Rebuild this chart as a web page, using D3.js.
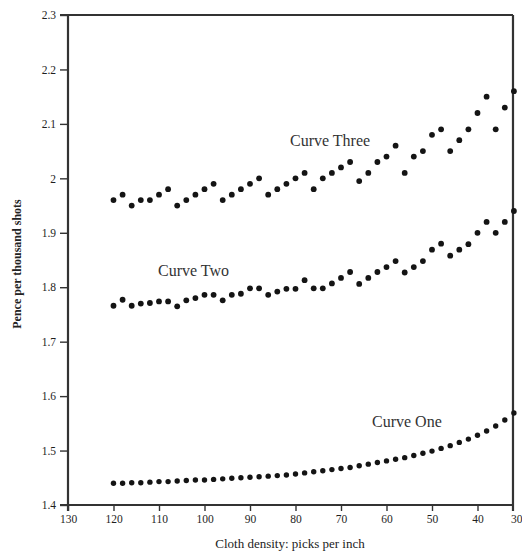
<!DOCTYPE html>
<html>
<head>
<meta charset="utf-8">
<script src="https://cdn.jsdelivr.net/npm/d3@7"></script>
<style>
  body { margin: 0; background: #fff; }
  svg { display: block; }
</style>
</head>
<body>
<div id="chart"></div>
<script>
// cloth density (picks per inch), read right to left on the axis
const picks = [120, 118, 116, 114, 112, 110, 108, 106, 104, 102, 100, 98, 96, 94, 92,
    90, 88, 86, 84, 82, 80, 78, 76, 74, 72, 70, 68, 66, 64, 62,
    60, 58, 56, 54, 52, 50, 48, 46, 44, 42, 40, 38, 36, 34, 32];

// pence per thousand shots, one value per pick
const curveOne = [1.440, 1.440, 1.441, 1.441, 1.442, 1.443, 1.443, 1.444, 1.445, 1.446,
    1.446, 1.447, 1.448, 1.449, 1.450, 1.451, 1.452, 1.453, 1.454, 1.455,
    1.457, 1.459, 1.461, 1.463, 1.465, 1.467, 1.469, 1.472, 1.475, 1.478,
    1.481, 1.484, 1.487, 1.491, 1.495, 1.499, 1.504, 1.509, 1.515, 1.521,
    1.528, 1.536, 1.545, 1.556, 1.569];

const curveTwo = [1.766, 1.777, 1.766, 1.77, 1.771, 1.774, 1.774, 1.765, 1.776, 1.78,
    1.786, 1.786, 1.776, 1.786, 1.788, 1.798, 1.798, 1.786, 1.792, 1.797,
    1.797, 1.813, 1.798, 1.798, 1.807, 1.817, 1.828, 1.806, 1.817, 1.828,
    1.837, 1.848, 1.827, 1.837, 1.848, 1.869, 1.88, 1.858, 1.869, 1.879,
    1.90, 1.92, 1.90, 1.92, 1.94];

const curveThree = [1.96, 1.97, 1.95, 1.96, 1.96, 1.97, 1.98, 1.95, 1.96, 1.97,
    1.98, 1.99, 1.96, 1.97, 1.98, 1.99, 2.00, 1.97, 1.98, 1.99,
    2.00, 2.01, 1.98, 2.00, 2.01, 2.02, 2.03, 1.995, 2.01, 2.03,
    2.04, 2.06, 2.01, 2.04, 2.05, 2.08, 2.09, 2.05, 2.07, 2.09,
    2.12, 2.15, 2.09, 2.13, 2.16];

const curveNames = ["Curve One", "Curve Two", "Curve Three"];

const xTicks = [130, 120, 110, 100, 90, 80, 70, 60, 50, 40, 30];
const yTicks = [1.4, 1.5, 1.6, 1.7, 1.8, 1.9, 2.0, 2.1, 2.2, 2.3];

const width = 522, height = 555;
const font = "'Liberation Serif', 'Times New Roman', serif";

const svg = d3.select("div#chart").append("svg")
    .attr("width", width)
    .attr("height", height)
    .style("background-color", "white");

// scales
const x = d3.scaleLinear().domain([130, 30]).range([68, 523]);
const y = d3.scaleLinear().domain([1.4, 2.3]).range([505, 15]);

// the frame stops a little short of the 30 mark, right on the last column of dots
const frameRight = x(32.2);

// y axis
const yAxis = svg.append("g")
    .attr("transform", "translate(68,0)")
    .call(d3.axisLeft(y)
        .tickValues(yTicks)
        .tickFormat(d3.format("~g"))
        .tickSize(8)
        .tickPadding(4)
        .tickSizeOuter(0));
yAxis.select(".domain").remove();
yAxis.selectAll("line").attr("stroke", "#333").attr("stroke-width", 1.4);
yAxis.selectAll("text")
    .attr("font-family", font)
    .attr("font-size", 11.5)
    .attr("fill", "#1e1e1e");

// x axis
const xAxis = svg.append("g")
    .attr("transform", "translate(0,505)")
    .call(d3.axisBottom(x)
        .tickValues(xTicks)
        .tickSize(6)
        .tickPadding(4)
        .tickSizeOuter(0));
xAxis.select(".domain").remove();
xAxis.selectAll("line").attr("stroke", "#333").attr("stroke-width", 1.4);
xAxis.selectAll("text")
    .attr("font-family", font)
    .attr("font-size", 11.5)
    .attr("fill", "#1e1e1e");
// last label sits against the frame
xAxis.selectAll(".tick").filter(d => d === 30)
    .call(t => t.select("line").remove())
    .select("text")
    .attr("text-anchor", "end")
    .attr("dx", -1);

// frame
const frame = svg.append("g")
    .attr("stroke", "#333")
    .attr("stroke-width", 2.2)
    .attr("fill", "none");
frame.append("line").attr("x1", 68).attr("x2", 68).attr("y1", y(2.3)).attr("y2", y(1.4) + 6);
frame.append("line").attr("x1", 60).attr("x2", frameRight).attr("y1", y(2.3)).attr("y2", y(2.3));
frame.append("line").attr("x1", 60).attr("x2", frameRight).attr("y1", y(1.4)).attr("y2", y(1.4));
frame.append("line").attr("x1", frameRight).attr("x2", frameRight).attr("y1", y(2.3)).attr("y2", y(1.4) + 6);

// dots for each curve
const curves = [curveOne, curveTwo, curveThree];
const dotRadius = [2.7, 2.9, 2.9];

curves.forEach((vals, k) => {
    svg.append("g")
        .selectAll("circle")
        .data(vals)
        .join("circle")
        .attr("cx", (d, i) => x(picks[i]))
        .attr("cy", d => y(d))
        .attr("r", dotRadius[k])
        .attr("fill", "#141414");
});

// curve labels
const labelPos = [
    { x: 372, y: 427 },
    { x: 158, y: 276 },
    { x: 290, y: 146 }
];
curveNames.forEach((name, k) => {
    svg.append("text")
        .attr("x", labelPos[k].x)
        .attr("y", labelPos[k].y)
        .attr("font-family", font)
        .attr("font-size", 16)
        .attr("fill", "#333")
        .text(name);
});

// axis titles
svg.append("text")
    .attr("x", 290)
    .attr("y", 548)
    .attr("text-anchor", "middle")
    .attr("font-family", font)
    .attr("font-size", 13)
    .attr("fill", "#222")
    .text("Cloth density: picks per inch");

svg.append("text")
    .attr("transform", "translate(21,264) rotate(-90)")
    .attr("text-anchor", "middle")
    .attr("font-family", font)
    .attr("font-size", 12)
    .attr("font-weight", "bold")
    .attr("fill", "#222")
    .text("Pence per thousand shots");
</script>
</body>
</html>
